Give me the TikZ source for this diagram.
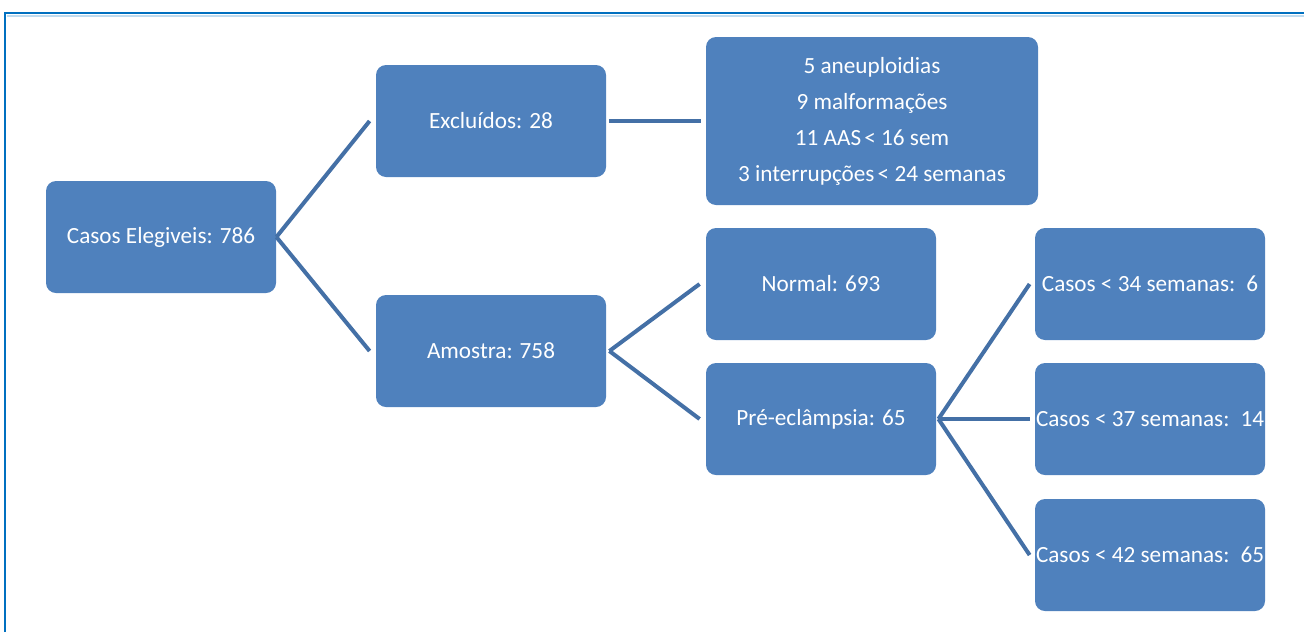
\documentclass[tikz,border=0pt]{standalone}
\usepackage{fontspec}
\setmainfont{Carlito}

\definecolor{caixa}{HTML}{4F81BD}
\definecolor{ligacao}{HTML}{4470A6}
\definecolor{moldura}{HTML}{0070C0}

\begin{document}
\begin{tikzpicture}[x=0.5pt, y=-0.5pt]
	% Stile per le caselle
	\tikzset{caixa/.style={rectangle, rounded corners=5pt, fill=caixa, text=white, minimum width=115pt, minimum height=56pt, inner sep=0pt, align=center, font=\fontsize{11.6}{18}\selectfont},
		ligacao/.style={draw=ligacao, line width=2pt}}
	
	% Area e moldura
	\useasboundingbox (0,0) rectangle (1304,632);
	\draw[moldura!25, line width=1pt] (7,15.5) -- (1304,15.5);
	\draw[moldura, line width=1.2pt] (5,632) -- (5,13) -- (1304,13);
	
	% Caselle
	\node[caixa] (elegiveis) at (161, 237) {Casos Elegiveis: 786};
	\node[caixa] (excluidos) at (491, 121) {Excluídos: 28};
	\node[caixa] (amostra)   at (491, 351) {Amostra: 758};
	\node[caixa, minimum width=166pt, minimum height=84pt] (motivos) at (872, 121)
		{5 aneuploidias\\9 malformações\\11 AAS{\kern-1pt} < 16 sem\\3 interrupções{\kern-1pt} < 24 semanas};
	\node[caixa] (normal)    at (821, 284) {Normal: 693};
	\node[caixa] (pre)       at (821, 419) {Pré-eclâmpsia: 65};
	\node[caixa] (casos34)   at (1150, 284) {Casos < 34 semanas:\kern2pt{} 6};
	\node[caixa] (casos37)   at (1150, 419) {Casos < 37 semanas:\kern2pt{} 14};
	\node[caixa] (casos42)   at (1150, 555) {Casos < 42 semanas:\kern2pt{} 65};
	
	% Collegamenti
	\draw[ligacao] (elegiveis.east) -- ([xshift=-3pt]excluidos.west);
	\draw[ligacao] (elegiveis.east) -- ([xshift=-3pt]amostra.west);
	\draw[ligacao] ([xshift=1.5pt]excluidos.east) -- ([xshift=-2.5pt]motivos.west);
	\draw[ligacao] ([xshift=1.5pt]amostra.east) -- ([xshift=-3pt]normal.west);
	\draw[ligacao] ([xshift=1.5pt]amostra.east) -- ([xshift=-3pt]pre.west);
	\draw[ligacao] ([xshift=1pt]pre.east) -- ([xshift=-2.5pt]casos34.west);
	\draw[ligacao] ([xshift=1pt]pre.east) -- ([xshift=-2.5pt]casos37.west);
	\draw[ligacao] ([xshift=1pt]pre.east) -- ([xshift=-2.5pt]casos42.west);
	
\end{tikzpicture}
\end{document}
